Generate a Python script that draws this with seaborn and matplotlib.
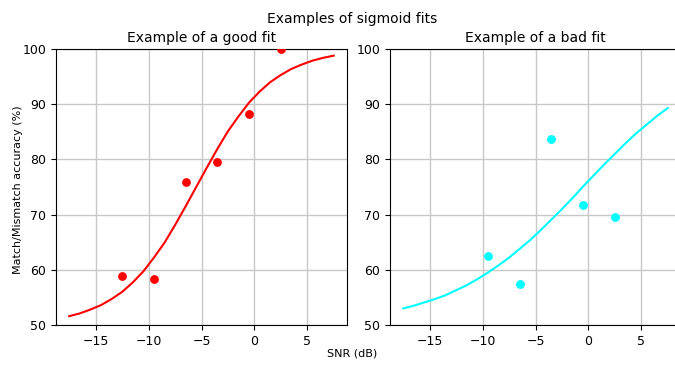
import numpy as np
import pandas as pd
import matplotlib
matplotlib.use("Agg")
import matplotlib.pyplot as plt
import seaborn as sns

# --- data ---
snr_good = [-12.5, -9.5, -6.5, -3.5, -0.5, 2.5]
acc_good = [58.8, 58.3, 75.9, 79.5, 88.3, 100.0]

snr_bad = [-9.5, -6.5, -3.5, -0.5, 2.5]
acc_bad = [62.5, 57.5, 83.7, 71.7, 69.6]

curve_x = [-17.5, -16.5, -15.5, -14.5, -13.5, -12.5, -11.5, -10.5, -9.5, -8.5,
           -7.5, -6.5, -5.5, -4.5, -3.5, -2.5, -1.5, -0.5, 0.5, 1.5,
           2.5, 3.5, 4.5, 5.5, 6.5, 7.5]
curve_good = [51.6, 52.1, 52.8, 53.6, 54.7, 56.0, 57.7, 59.7, 62.2, 64.9,
              68.1, 71.5, 75.0, 78.5, 81.9, 85.1, 87.8, 90.3, 92.3, 94.0,
              95.3, 96.4, 97.2, 97.9, 98.4, 98.8]
curve_bad = [53.0, 53.5, 54.1, 54.7, 55.4, 56.3, 57.2, 58.3, 59.5, 60.8,
             62.2, 63.8, 65.4, 67.2, 69.1, 71.0, 73.0, 75.1, 77.1, 79.1,
             81.0, 82.9, 84.7, 86.3, 87.9, 89.3]

titles = ["Example of a good fit", "Example of a bad fit"]
yticks = [50, 60, 70, 80, 90, 100]
xticks = [-15, -10, -5, 0, 5]

pts = [pd.DataFrame({"snr": snr_good, "acc": acc_good}),
       pd.DataFrame({"snr": snr_bad, "acc": acc_bad})]
curves = [pd.DataFrame({"snr": curve_x, "acc": curve_good}),
          pd.DataFrame({"snr": curve_x, "acc": curve_bad})]
colors = ["red", "cyan"]

W, H = 675, 365
fig = plt.figure(figsize=(W / 100, H / 100), dpi=100)
ax1 = fig.add_axes([56 / W, (H - 325) / H, 291 / W, 276 / H])
ax2 = fig.add_axes([390 / W, (H - 325) / H, 291 / W, 276 / H])

for ax, p, c, col, t in zip([ax1, ax2], pts, curves, colors, titles):
    ax.grid(True, color="#c8c8c8", linewidth=1.0, zorder=0)
    ax.set_axisbelow(True)
    sns.lineplot(data=c, x="snr", y="acc", ax=ax, color=col, linewidth=1.5,
                 sort=False, estimator=None)
    sns.scatterplot(data=p, x="snr", y="acc", ax=ax, color=col, s=40,
                    linewidth=0, zorder=3)
    ax.set_ylim(50, 100)
    ax.set_xlim(-18.75, 8.75)
    ax.set_xticks(xticks)
    ax.set_yticks(yticks)
    ax.tick_params(labelsize=9)
    ax.set_xlabel("")
    ax.set_ylabel("")
    ax.set_title(t, fontsize=10, pad=5)

fig.suptitle("Examples of sigmoid fits", fontsize=10, x=352 / W, y=1 - 12 / H, va="top")
fig.text(352 / W, 1 - 353 / H, "SNR (dB)", ha="center", va="center", fontsize=8)
fig.text(18 / W, 1 - 190 / H, "Match/Mismatch accuracy (%)", ha="center",
         va="center", rotation=90, fontsize=8)

fig.savefig("out.png", dpi=100)
